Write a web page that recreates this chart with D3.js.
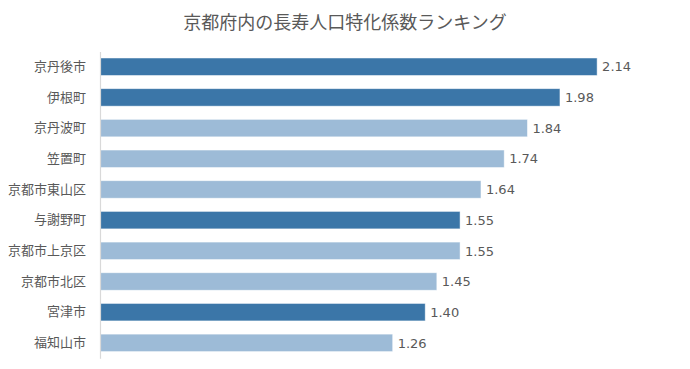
<!DOCTYPE html>
<html><head><meta charset="utf-8">
<script src="https://cdn.jsdelivr.net/npm/d3@7"></script>
<style>body{margin:0;background:#fff;} text{font-family:"Noto Sans CJK JP","Noto Sans",sans-serif;}</style>
</head><body>
<svg id="c" width="690" height="369"></svg>
<script>
const categories = ["京丹後市","伊根町","京丹波町","笠置町","京都市東山区","与謝野町","京都市上京区","京都市北区","宮津市","福知山市"];
const values = [2.14,1.98,1.84,1.74,1.64,1.55,1.55,1.45,1.40,1.26];
const highlight = [true,true,false,false,false,true,false,false,true,false];
const title = "京都府内の長寿人口特化係数ランキング";

const svg = d3.select("#c");
const x = d3.scaleLinear().domain([0, 2.5]).range([100, 100 + 232.3 * 2.5]);
const y = d3.scaleBand().domain(categories).range([51.4, 358.2]).paddingInner(0.43).paddingOuter(0.215);

svg.append("text").attr("x", 345).attr("y", 29).attr("text-anchor", "middle")
  .attr("font-size", 18).attr("fill", "#595959").text(title);

svg.selectAll("rect.bar").data(values).join("rect").attr("class","bar")
  .attr("x", x(0)).attr("y", (d,i) => y(categories[i]))
  .attr("width", d => x(d) - x(0)).attr("height", y.bandwidth())
  .attr("fill", (d,i) => highlight[i] ? "#3b76a8" : "#9dbbd7")
  .attr("stroke", "#ffffff").attr("stroke-opacity", 0.6).attr("stroke-width", 0.8);

const yAxis = svg.append("g").attr("transform", `translate(${x(0)},0)`)
  .call(d3.axisLeft(y).tickSize(0).tickPadding(14));
yAxis.select(".domain").attr("stroke", "#d9d9d9").attr("stroke-width", 1.2);
yAxis.selectAll("text").attr("font-size", 13).attr("fill", "#595959")
  .style("font-family", '"Noto Sans CJK JP",sans-serif');

svg.selectAll("text.val").data(values).join("text").attr("class","val")
  .attr("x", d => x(d) + 5).attr("y", (d,i) => y(categories[i]) + y.bandwidth()/2)
  .attr("dy", "0.36em").attr("font-size", 13).attr("fill", "#595959")
  .style("font-family", "Verdana,'DejaVu Sans',sans-serif")
  .text(d => d.toFixed(2));
</script>
</body></html>
